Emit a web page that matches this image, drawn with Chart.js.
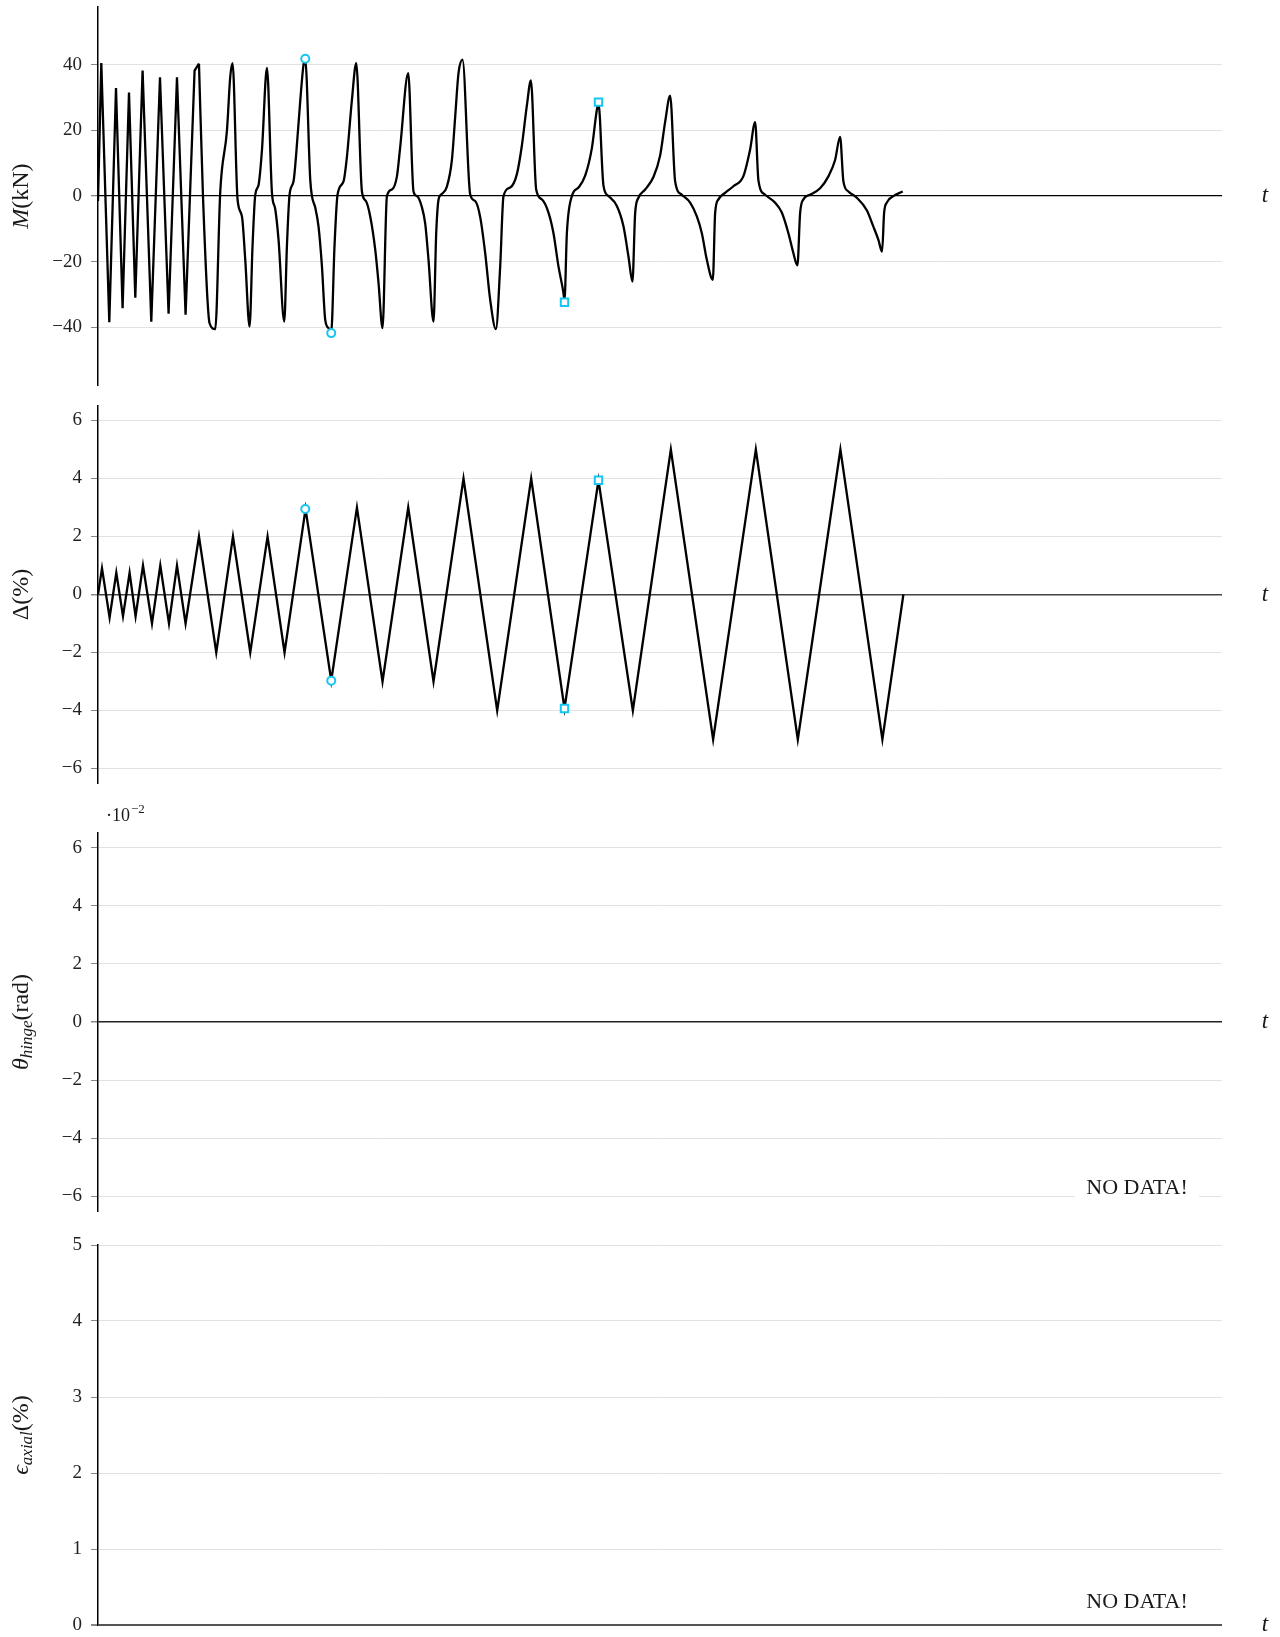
<!DOCTYPE html>
<html>
<head>
<meta charset="utf-8">
<script src="https://cdn.jsdelivr.net/npm/chart.js@4.4.1/dist/chart.umd.min.js"></script>
<style>
  html, body { margin: 0; padding: 0; background: #fff; }
  #wrap { position: relative; width: 1280px; height: 1637px; }
  .panel { position: absolute; left: 0; width: 1280px; }
</style>
</head>
<body>
<div id="wrap">
  <div class="panel" style="top:0;height:395px"><canvas id="cMoment"></canvas></div>
  <div class="panel" style="top:395px;height:400px"><canvas id="cDrift"></canvas></div>
  <div class="panel" style="top:795px;height:425px"><canvas id="cHinge"></canvas></div>
  <div class="panel" style="top:1220px;height:417px"><canvas id="cAxial"></canvas></div>
</div>
<script>
// time axis (arbitrary units, same for all four panels)
const tMax = 1124.3;
// the first small cycles are drawn with straight segments, the rest smoothed
const tSharpEnd = 101;

// moment M(kN) vs t
const momentT = [0, 3.3, 11.3, 18, 24.6, 31, 37.3, 44.6, 53.3, 62, 70.6, 79, 87.6, 96.6, 101, 105, 111.6, 117.3,
  122.3, 129, 132.3, 134.6, 139.6, 144, 147.3, 151.6, 154.6, 157.3, 160.6, 164, 169, 174, 177.3, 180.6, 186.3,
  189, 191.6, 195.6, 198.3, 202.3, 205.6, 207.3, 212.3, 214, 217.3, 220.6, 224, 227.3, 230.6, 233.3,
  236.6, 239.6, 245.6, 249, 254, 258.3, 264, 268, 272.3, 277.3, 280.6, 284.6,
  289, 294, 299, 302.3, 310.3, 315.6, 319, 324, 327.3, 330.6, 335.6,
  338.3, 340.6, 343, 349, 354, 357.3, 360.6, 364.6, 372.3, 377.3, 382.3, 387.3, 392.3, 398,
  402.3, 405.6, 412.3, 419, 424, 429, 433, 438.3, 444, 450.6, 455.6, 460.6, 465.6, 466.6,
  469, 474, 480.6, 487.3, 494, 499, 500.6, 505.6, 510.6, 519, 525.6, 530.6, 534.6,
  537.3, 540.6, 547.3, 555.6, 562.3, 567.3, 572.3, 577.3, 584, 592.3, 599, 604, 609, 615,
  617.3, 620.6, 627.3, 635.6, 645.6, 652.3, 657.3, 660.6, 667.3, 677.3, 684, 690.6, 695.6, 699.6,
  702.3, 705.6, 712.3, 722.3, 730.6, 737.3, 742.3, 745.6, 750.6, 759, 769, 775.6, 780.6, 784.3,
  786.3, 789, 795.6, 805];
const momentVals = [-1.5, 40.5, -38.4, 32.9, -34.1, 31.5, -30.9, 38.2, -38.2, 36.2, -35.8, 36.2, -36.1, 38.2, 40.3, 0, -38.7, -40.5,
  1.4, 20, 36.4, 40.5, -1.1, -6.2, -19.4, -39.7, -15, 0.4, 3.4, 14, 39, 1, -4, -13.3, -38.2,
  -15, 0.4, 4.5, 13, 29, 40, 41.5, 5, 0, -3.5, -9.3, -21.4, -37.7, -40.2, -41.3,
  -15, 0.4, 4.5, 12, 29.3, 40.5, 1.4, -1.5, -6.2, -16.3, -26.4, -40.2,
  0, 2, 6, 15, 37.4, 1.4, 0, -3.4, -8.4, -19.4, -38.2,
  -11.3, -1.1, 0.4, 2.9, 11, 24.2, 37.4, 41.5, 0.5, -1.5, -6.4, -17.4, -31.6, -40.5,
  -21.4, 0, 2.6, 6.7, 15.4, 27.6, 35.2, 2, -1, -5, -11.3, -21.4, -29.5, -31.8,
  -11.3, 0, 2.6, 6.2, 14.6, 26.3, 28.2, 3.2, 0, -3, -9.2, -18.4, -26,
  -5.2, -0.5, 2, 5.8, 12.4, 22.6, 30.6, 4.5, 0.4, -2, -6.2, -11.3, -19.4, -25.5,
  -5.2, -1, 1, 3, 6.1, 14.2, 22.5, 4.8, 0.4, -2, -5, -11.3, -17.4, -21.1,
  -5.2, -1, 0.4, 2.4, 6, 11, 18, 4.5, 1.4, -0.5, -4.3, -9.3, -13.3, -16.9,
  -5.2, -2, 0, 1.4];

// drift Δ(%) vs t
const driftT = [0, 4, 11.6, 18.3, 25, 31.6, 37.6, 45, 54, 62.3, 71, 79, 87.6, 101, 118.3, 135, 152.3, 169.6, 186.6,
  207.6, 233.3, 259, 284.6, 310.3, 335.6, 365.6, 399.3, 433.3, 466.6, 500.6, 535, 573, 615.3, 658, 700, 742.6, 784.6, 805.6];
const driftVals = [0, 0.9, -0.8, 0.75, -0.75, 0.75, -0.75, 1, -1, 1, -1, 1, -1, 2, -2, 2, -2, 2, -2,
  2.95, -2.97, 3, -3, 3, -3, 4, -4, 4, -3.93, 3.94, -4, 5, -5, 5, -5, 5, -5, 0];

// highlighted points (circles and squares)
const circleT = [207.3, 233.3];
const circleM = [41.8, -41.7];
const circleDrift = [2.95, -2.97];
const squareT = [466.6, 500.6];
const squareM = [-32.3, 28.6];
const squareDrift = [-3.93, 3.94];

// tick labels
const momentTicks = [40, 20, 0, -20, -40];
const driftTicks = [6, 4, 2, 0, -2, -4, -6];
const hingeTicks = [6, 4, 2, 0, -2, -4, -6];
const axialTicks = [5, 4, 3, 2, 1, 0];

const serif = '"Liberation Serif", "DejaVu Serif", serif';
const cyan = '#16c6f0';

const pts = (xs, ys) => xs.map((x, i) => ({ x: x, y: ys[i] }));

// extra text: t label, rotated y title with subscripts, NO DATA!, exponent
const annotate = {
  id: 'annotate',
  afterDraw(chart, args, opts) {
    const { ctx, chartArea: a, scales: { y } } = chart;
    ctx.save();
    ctx.fillStyle = '#1a1a1a';
    ctx.font = 'italic 23px ' + serif;
    ctx.textAlign = 'center';
    ctx.textBaseline = 'middle';
    ctx.fillText('t', a.right + 43, y.getPixelForValue(0));

    if (opts.noData) {
      ctx.font = '22px ' + serif;
      const cx = a.right - 85, cy = a.bottom - 23;
      ctx.fillStyle = '#fff';
      ctx.fillRect(cx - 62, cy - 15, 124, 30);
      ctx.fillStyle = '#1a1a1a';
      ctx.fillText('NO DATA!', cx, cy);
    }

    if (opts.exponent) {
      ctx.textAlign = 'left';
      ctx.textBaseline = 'alphabetic';
      ctx.font = '18px ' + serif;
      ctx.fillText('·10', a.left + 8, a.top - 12);
      const w = ctx.measureText('·10').width;
      ctx.font = '13px ' + serif;
      ctx.fillText('−2', a.left + 9 + w, a.top - 20);
    }

    // y title
    ctx.translate(22, (a.top + a.bottom) / 2);
    ctx.rotate(-Math.PI / 2);
    ctx.textAlign = 'left';
    ctx.textBaseline = 'middle';
    const parts = opts.title.map(p => {
      const f = (p.it ? 'italic ' : '') + (p.sub ? 17 : 24) + 'px ' + serif;
      ctx.font = f;
      return { t: p.t, sub: p.sub, f: f, w: ctx.measureText(p.t).width };
    });
    let x = -parts.reduce((s, p) => s + p.w, 0) / 2;
    parts.forEach(p => {
      ctx.font = p.f;
      ctx.fillText(p.t, x, p.sub ? 6 : 0);
      x += p.w;
    });
    ctx.restore();
  }
};

function makeChart(id, datasets, yMin, yMax, ticks, padTop, padBottom, zero, extra) {
  return new Chart(document.getElementById(id), {
    type: 'line',
    data: { datasets: datasets },
    plugins: [annotate],
    options: {
      animation: false,
      responsive: true,
      maintainAspectRatio: false,
      layout: { padding: { top: padTop, bottom: padBottom, left: 0, right: 58 } },
      plugins: { legend: { display: false }, tooltip: { enabled: false }, annotate: extra },
      scales: {
        x: { type: 'linear', min: 0, max: tMax, display: false },
        y: {
          type: 'linear',
          min: yMin,
          max: yMax,
          afterFit: s => { s.width = 98; s.paddingTop = 0; s.paddingBottom = 0; },
          afterBuildTicks: s => { s.ticks = ticks.map(v => ({ value: v })); },
          border: { display: true, color: '#000', width: 1.5 },
          grid: {
            color: c => (c.tick && c.tick.value === 0 ? zero.color : '#e2e2e2'),
            lineWidth: c => (c.tick && c.tick.value === 0 ? zero.width : 1),
            tickColor: '#888',
            tickLength: 7
          },
          ticks: {
            padding: 9,
            color: '#222',
            font: { family: serif, size: 19 },
            callback: v => String(v).replace('-', '\u2212')
          }
        }
      }
    }
  });
}

const lineStyle = { borderColor: '#000', borderWidth: 2.3, pointRadius: 0, fill: false, order: 1 };
const marker = (style, r) => ({
  showLine: false, pointStyle: style, pointRadius: r, pointBorderWidth: 2,
  pointBorderColor: cyan, pointBackgroundColor: '#fff', borderColor: cyan, order: 0
});

const momentPts = pts(momentT, momentVals);

makeChart('cMoment', [
  Object.assign({ data: momentPts.filter(p => p.x <= tSharpEnd), tension: 0 }, lineStyle),
  Object.assign({ data: momentPts.filter(p => p.x >= tSharpEnd), cubicInterpolationMode: 'monotone' }, lineStyle),
  Object.assign({ data: pts(circleT, circleM) }, marker('circle', 4)),
  Object.assign({ data: pts(squareT, squareM) }, marker('rect', 5.2))
], -57.5, 57.5, momentTicks, 7, 10, { color: '#000', width: 1.3 },
  { title: [{ t: 'M', it: true }, { t: '(kN)' }] });

makeChart('cDrift', [
  Object.assign({ data: pts(driftT, driftVals), tension: 0 }, lineStyle),
  Object.assign({ data: pts(circleT, circleDrift) }, marker('circle', 4)),
  Object.assign({ data: pts(squareT, squareDrift) }, marker('rect', 5.2))
], -6.5, 6.5, driftTicks, 11, 12, { color: '#444', width: 1.5 },
  { title: [{ t: 'Δ' }, { t: '(%)' }] });

makeChart('cHinge', [
  Object.assign({ data: [] }, lineStyle)
], -6.5, 6.5, hingeTicks, 38, 9, { color: '#222', width: 1.5 },
  { title: [{ t: 'θ', it: true }, { t: 'hinge', it: true, sub: true }, { t: '(rad)' }], noData: true, exponent: true });

makeChart('cAxial', [
  Object.assign({ data: [] }, lineStyle)
], 0, 5, axialTicks, 25, 12, { color: '#555', width: 2 },
  { title: [{ t: 'ϵ', it: true }, { t: 'axial', it: true, sub: true }, { t: '(%)' }], noData: true });
</script>
</body>
</html>
